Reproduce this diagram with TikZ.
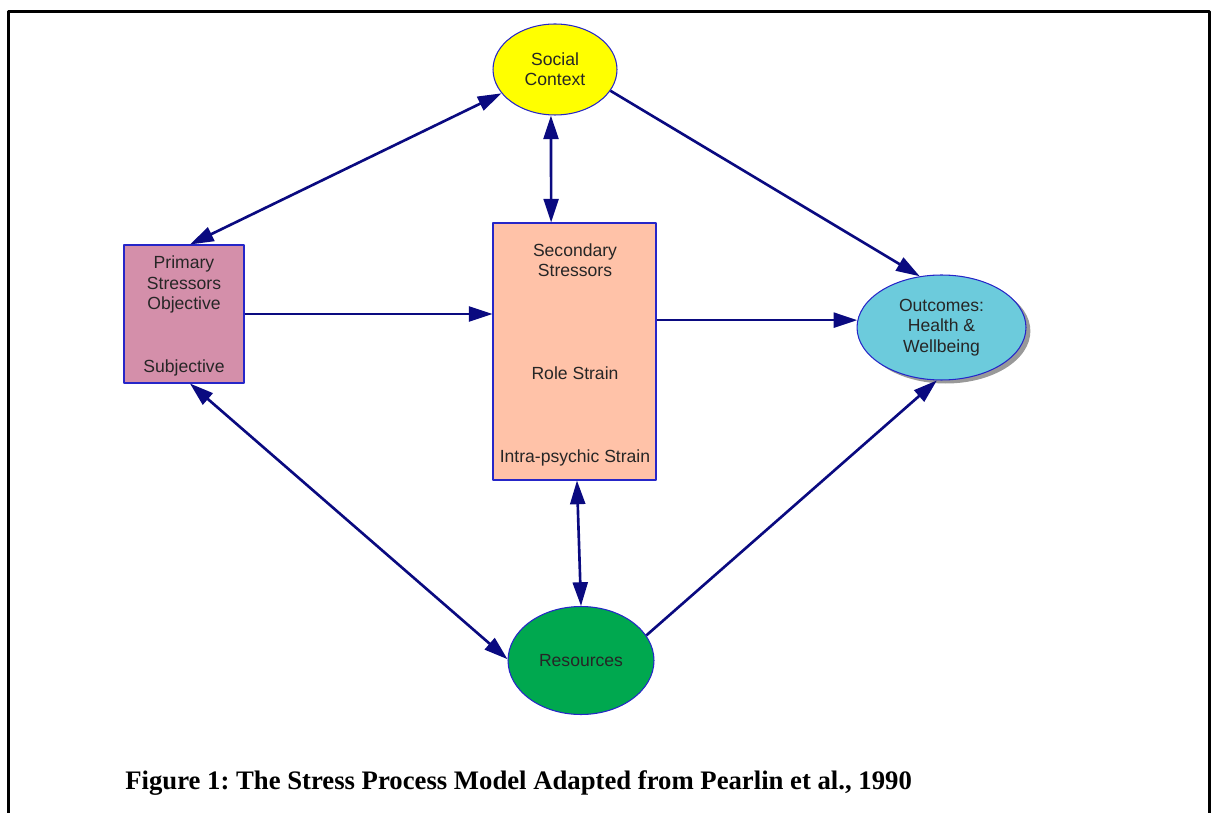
\documentclass[tikz,border=0pt]{standalone}
\usepackage{fontspec}
\setmainfont{Liberation Sans}
\newfontfamily\capfont{Liberation Serif}
\usetikzlibrary{arrows.meta,shapes.geometric,shadows}
\definecolor{navy}{HTML}{0A0A80}
\definecolor{edgeblue}{HTML}{2626C8}
\definecolor{socialcol}{HTML}{FFFF00}
\definecolor{primcol}{HTML}{D48FAA}
\definecolor{seccol}{HTML}{FFC2A8}
\definecolor{outcol}{HTML}{6CCBDC}
\definecolor{rescol}{HTML}{00A84F}
\begin{document}
\begin{tikzpicture}[x=0.02cm, y=-0.02cm, >={Triangle[length=13.5pt,width=8.5pt]}, font=\fontsize{10}{11.5}\selectfont, line join=round,
  box/.style={draw=edgeblue, line width=0.6pt, inner sep=0pt, text=black!85},
  oval/.style={box, ellipse, align=center},
  txt/.style={align=center, inner sep=0pt, text=black!85},
  link/.style={navy, line width=1.5pt}]
\def\W{1216} \def\H{813} % khung
\useasboundingbox (0,0) rectangle (\W,\H);
\draw[line width=1.3pt] (8.5,\H)--(8.5,11.5)--(1209.5,11.5)--(1209.5,\H);
\node[oval, fill=socialcol, minimum width=2.48cm, minimum height=1.82cm] (social) at (555,69.5) {Social\\Context};
\node[box, fill=primcol, minimum width=2.4cm, minimum height=2.76cm] (primary) at (184,314) {};
\node[box, fill=seccol, minimum width=3.26cm, minimum height=5.14cm] (secondary) at (574.5,351.5) {};
\node[oval, fill=outcol, minimum width=3.38cm, minimum height=2.1cm, drop shadow={shadow xshift=2.5pt, shadow yshift=-2pt, opacity=1, fill=black!40}] (outcomes) at (941.5,327.5) {Outcomes:\\Health \&\\Wellbeing};
\node[oval, fill=rescol, minimum width=2.92cm, minimum height=2.16cm] (resources) at (581,660.5) {Resources};
\node[txt] (primtop) at (184,284.5) {Primary\\Stressors\\Objective};
\node[txt] (primbot) at (184,368) {Subjective};
\node[txt] (sectop) at (575,260) {Secondary\\Stressors};
\node[txt] (secmid) at (575,373.5) {Role Strain};
\node[txt] (secbot) at (575,457.5) {Intra-psychic Strain};
\draw[link,<->] (social.204) -- ([xshift=3.4pt]primary.north);
\draw[link,<->] ([xshift=-2.3pt]social.south) -- ([xshift=-13.3pt]secondary.north);
\draw[link,->] (social.339) -- (outcomes.113);
\draw[link,->] (primary.east) -- (secondary.west |- primary.east);
\draw[link,->] (secondary.east |- outcomes.175) -- (outcomes.175);
\draw[link,<->] ([xshift=3.4pt]primary.south) -- (resources.179);
\draw[link,<->] ([xshift=1.4pt]secondary.south) -- (resources.north);
\draw[link,->] (resources.21) -- (outcomes.265);
\node[anchor=west, inner sep=0pt, font=\fontsize{15.2}{18}\capfont\bfseries\frenchspacing] (caption) at (125,783) {Figure 1: The Stress Process Model Adapted from Pearlin et al., 1990};
\end{tikzpicture}
\end{document}
